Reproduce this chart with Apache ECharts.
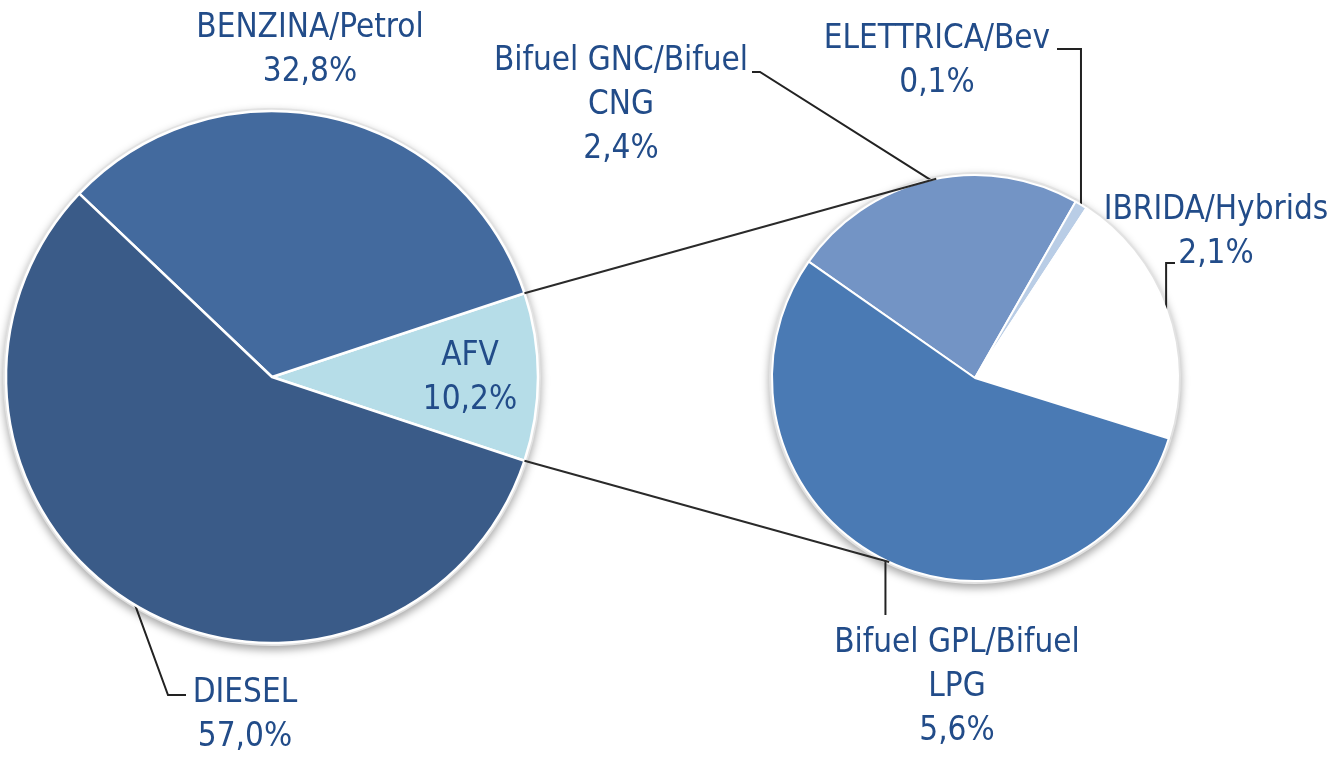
<!DOCTYPE html>
<html>
<head>
  <meta charset="UTF-8">
  <title>AFV - pie of pie</title>
  <script src="https://cdn.jsdelivr.net/npm/echarts@6/dist/echarts.min.js"></script>
  <style>html, body { margin: 0; padding: 0; background: #fff; }</style>
</head>
<body>
  <div id="main" style="width: 1331px; height: 758px"></div>
  <script>
    // main pie and the AFV breakdown
    var mainNames = ['AFV', 'BENZINA/Petrol', 'DIESEL'];
    var mainValues = [10.2, 32.8, 57.0];
    var afvNames = ['Bifuel GNC/Bifuel\nCNG', 'ELETTRICA/Bev', 'IBRIDA/Hybrids', 'Bifuel GPL/Bifuel\nLPG'];
    var afvValues = [2.4, 0.1, 2.1, 5.6];

    var mainColors = ['#b6dde8', '#436a9e', '#3a5b88'];
    var afvColors = ['#7394c5', '#b9cde6', '#ffffff', '#4a7ab4'];

    var textColor = '#224c89';
    var fontFamily = "'Liberation Sans Narrow', 'Arial Narrow', 'DejaVu Sans Condensed', sans-serif";

    var leftPie = { cx: 272, cy: 377, r: 266 };
    var rightPie = { cx: 975, cy: 378, r: 203 };
    var rightStart = 145;
    // where the connector lines reach the small pie (degrees)
    var connectTop = 101, connectBottom = 245;

    function sum(a) { return a.reduce(function (s, v) { return s + v; }, 0); }
    var afvShare = mainValues[0] / sum(mainValues) * 360;
    var leftStart = -afvShare / 2;   // AFV slice centred on the horizontal

    function midAngles(values, start, clockwise) {
      var total = sum(values), a = start, out = [];
      values.forEach(function (v) {
        var span = v / total * 360 * (clockwise ? -1 : 1);
        out.push(a + span / 2);
        a += span;
      });
      return out;
    }
    function edgePoint(pie, deg) {
      var t = deg * Math.PI / 180;
      return [pie.cx + pie.r * Math.cos(t), pie.cy - pie.r * Math.sin(t)];
    }
    var mainMid = midAngles(mainValues, leftStart, false);
    var afvMid = midAngles(afvValues, rightStart, true);

    function pct(v) { return v.toFixed(1).replace('.', ',') + '%'; }

    // label centres and leader bends (layout only)
    var mainLabelPos = [[470, 378], [310, 50], [245, 715]];
    var afvLabelPos = [[621, 105], [937, 61], [1216, 232], [957, 687]];

    function mainLeader(i, start) {
      if (i === 2) return [start, [168, 695], [186, 695]];
      return null;
    }
    function afvLeader(i, start) {
      if (i === 0) return [start, [760, 72], [752, 72]];
      if (i === 1) return [start, [start[0], 49], [1057, 49]];
      if (i === 2) return [start, [start[0], 263], [1175, 263]];
      return [start, [start[0], 590], [start[0], 615]];
    }

    var labelStyle = {
      color: textColor,
      fontFamily: fontFamily,
      fontSize: 33,
      lineHeight: 44,
      align: 'center'
    };
    var leaderStyle = { color: '#222', width: 2 };

    var myChart = echarts.init(document.getElementById('main'));

    var option = {
      animation: false,
      backgroundColor: '#fff',
      series: [
        // soft grey rim + shadow under each pie
        {
          type: 'pie', silent: true, z: 1,
          center: [leftPie.cx, leftPie.cy], radius: leftPie.r + 3,
          startAngle: leftStart, clockwise: false,
          label: { show: false }, labelLine: { show: false },
          itemStyle: { color: '#e2e2e2', shadowBlur: 8, shadowOffsetY: 4, shadowColor: 'rgba(0,0,0,0.35)' },
          data: mainValues.map(function (v, i) { return { name: mainNames[i], value: v }; })
        },
        {
          type: 'pie', silent: true, z: 1,
          center: [rightPie.cx, rightPie.cy], radius: rightPie.r + 3,
          startAngle: rightStart, clockwise: true,
          label: { show: false }, labelLine: { show: false },
          itemStyle: { color: '#e2e2e2', shadowBlur: 8, shadowOffsetY: 4, shadowColor: 'rgba(0,0,0,0.35)' },
          data: afvValues.map(function (v, i) { return { name: afvNames[i], value: v }; })
        },
        {
          name: 'Alimentazione', type: 'pie', z: 3,
          center: [leftPie.cx, leftPie.cy], radius: leftPie.r,
          startAngle: leftStart, clockwise: false,
          avoidLabelOverlap: false, minShowLabelAngle: 0,
          itemStyle: { borderColor: '#fff', borderWidth: 2.5 },
          label: Object.assign({ show: true, position: 'outside', formatter: function (p) { return p.name + '\n' + pct(p.value); } }, labelStyle),
          labelLine: { show: true, lineStyle: leaderStyle },
          labelLayout: function (p) {
            var c = mainLabelPos[p.dataIndex];
            var pts = mainLeader(p.dataIndex, edgePoint(leftPie, mainMid[p.dataIndex]));
            var res = { x: c[0], y: c[1], align: 'center', verticalAlign: 'middle' };
            if (pts) res.labelLinePoints = pts;
            return res;
          },
          data: mainValues.map(function (v, i) {
            var d = { name: mainNames[i], value: v, itemStyle: { color: mainColors[i] } };
            if (i === 0) d.label = { position: 'inside' };
            if (i === 1) d.labelLine = { show: false };
            return d;
          })
        },
        {
          name: 'AFV', type: 'pie', z: 3,
          center: [rightPie.cx, rightPie.cy], radius: rightPie.r,
          startAngle: rightStart, clockwise: true,
          avoidLabelOverlap: false, minShowLabelAngle: 0,
          itemStyle: { borderColor: '#fff', borderWidth: 2 },
          label: Object.assign({ show: true, position: 'outside', formatter: function (p) { return p.name + '\n' + pct(p.value); } }, labelStyle),
          labelLine: { show: true, lineStyle: leaderStyle },
          labelLayout: function (p) {
            var c = afvLabelPos[p.dataIndex];
            return {
              x: c[0], y: c[1], align: 'center', verticalAlign: 'middle',
              labelLinePoints: afvLeader(p.dataIndex, edgePoint(rightPie, afvMid[p.dataIndex]))
            };
          },
          data: afvValues.map(function (v, i) {
            return { name: afvNames[i], value: v, itemStyle: { color: afvColors[i] } };
          })
        }
      ]
    };

    // connector lines from the AFV slice to the breakdown pie
    var topFrom = edgePoint(leftPie, leftStart + afvShare);
    var botFrom = edgePoint(leftPie, leftStart);
    var topTo = edgePoint(rightPie, connectTop);
    var botTo = edgePoint(rightPie, connectBottom);
    var connStyle = { stroke: '#2a2a2a', lineWidth: 2 };
    option.graphic = [
      { type: 'line', z: 10, shape: { x1: topFrom[0], y1: topFrom[1], x2: topTo[0], y2: topTo[1] }, style: connStyle },
      { type: 'line', z: 10, shape: { x1: botFrom[0], y1: botFrom[1], x2: botTo[0], y2: botTo[1] }, style: connStyle }
    ];

    myChart.setOption(option);
  </script>
</body>
</html>
